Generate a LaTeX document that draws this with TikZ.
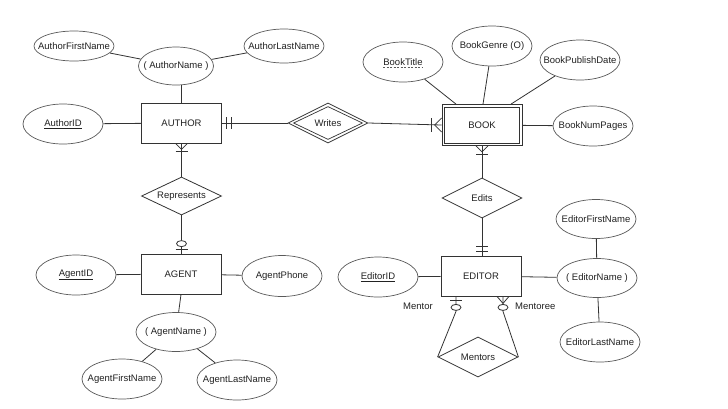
\documentclass[tikz,border=0pt]{standalone}
\usepackage{fontspec}
\setmainfont{Liberation Sans}
\usetikzlibrary{shapes.geometric,calc}
\definecolor{ln}{HTML}{333333}
\definecolor{el}{HTML}{5A5A5A}
\definecolor{tx}{HTML}{222222}
\tikzset{
  every node/.style={font=\fontsize{9.5}{11}\selectfont, text=tx},
  ent/.style={rectangle, draw=ln, line width=0.8pt, minimum width=80pt, minimum height=40pt, inner sep=0pt},
  attr/.style={ellipse, draw=el, line width=0.7pt, minimum width=80pt, minimum height=40pt, inner sep=0pt,
    label={[lbl]center:#1}},
  rel/.style={diamond, draw=ln, line width=0.8pt, minimum width=80pt, minimum height=40pt, inner sep=0pt, aspect=2},
  conn/.style={draw=ln, line width=0.8pt},
  mk/.style={draw=ln, line width=0.8pt},
  lbl/.style={inner sep=0pt}
}
\begin{document}
\begin{tikzpicture}[x=1pt,y=-1pt]
\useasboundingbox[fill=white] (0,0) rectangle (728,408);

% ---------- AUTHOR ----------
\node[ent] (AUTHOR) at (181.5,123) {AUTHOR};
\node[attr={( AuthorName )}, minimum width=75pt, minimum height=38pt] (AuthorName) at (176,66) {};
\node[attr=AuthorFirstName, minimum height=30pt] (AuthorFirstName) at (74,46) {};
\node[attr=AuthorLastName, minimum height=34pt] (AuthorLastName) at (284,46) {};
\node[attr={\underline{AuthorID}}] (AuthorID) at (63,124) {};

\path[conn] (AuthorFirstName) -- (AuthorName);
\path[conn] (AuthorLastName) -- (AuthorName);
\path[conn] (AuthorName.south -| AUTHOR.north) -- (AUTHOR.north);
\path[conn] (AuthorID) -- (AUTHOR);

% ---------- Writes ----------
\node[rel] (Writes) at (328,123) {};
\node[rel, minimum width=69pt, minimum height=33pt, line width=0.7pt] (WritesIn) at (328,123) {Writes};
\path[conn] (AUTHOR.east) -- (Writes.west);
\path[mk] ($(AUTHOR.east)+(4,-6)$) -- ($(AUTHOR.east)+(4,6)$);
\path[mk] ($(AUTHOR.east)+(9,-6)$) -- ($(AUTHOR.east)+(9,6)$);

% ---------- BOOK ----------
\node[ent, minimum height=41pt] (BOOK) at (482,125) {BOOK};
\draw[ln, line width=0.8pt] ([shift={(3pt,-3pt)}]BOOK.north west) rectangle ([shift={(-3pt,3pt)}]BOOK.south east);
\node[attr={}] (BookTitle) at (403,62) {};
\node[lbl] (BookTitleTxt) at (BookTitle.center) {BookTitle};
\draw[el, line width=0.6pt, dash pattern=on 2pt off 1.5pt] ([yshift=-2pt]BookTitleTxt.base west) -- ([yshift=-2pt]BookTitleTxt.base east);
\node[attr={BookGenre (O)}] (BookGenre) at (492,46) {};
\node[attr=BookPublishDate] (BookPublishDate) at (580,60) {};
\node[attr=BookNumPages] (BookNumPages) at (593,126) {};

\path[conn] (BookTitle) -- ($(BOOK.north)+(-26,0)$);
\path[conn] (BookGenre) -- ($(BOOK.north)+(1,0)$);
\path[conn] (BookPublishDate) -- ($(BOOK.north)+(29,0)$);
\path[conn] (BookNumPages) -- (BOOK);

\path[conn] (Writes.east) -- (BOOK.west);
% crow's foot + bar at BOOK west
\path[mk] ($(BOOK.west)+(0,-7)$) -- ($(BOOK.west)+(-7,0)$) -- ($(BOOK.west)+(0,7)$);
\path[mk] ($(BOOK.west)+(-10,-7)$) -- ($(BOOK.west)+(-10,7)$);

% ---------- Represents ----------
\node[rel, minimum height=38pt] (Represents) at (181.5,196) {Represents};
\path[conn] (AUTHOR.south) -- (Represents.north);
\path[mk] ($(AUTHOR.south)+(-6,0)$) -- ($(AUTHOR.south)+(0,6)$) -- ($(AUTHOR.south)+(6,0)$);
\path[mk] ($(AUTHOR.south)+(-6,8)$) -- ($(AUTHOR.south)+(6,8)$);

% ---------- AGENT ----------
\node[ent] (AGENT) at (181,274) {AGENT};
\node[attr={\underline{AgentID}}] (AgentID) at (76,275) {};
\node[attr=AgentPhone, minimum height=41pt] (AgentPhone) at (282,276) {};
\node[attr={( AgentName )}, minimum height=39pt] (AgentName) at (176,332) {};
\node[attr=AgentFirstName] (AgentFirstName) at (122,379) {};
\node[attr=AgentLastName] (AgentLastName) at (237,380) {};

\path[conn] (Represents.south) -- (Represents.south |- AGENT.north);
\path[mk] ($(Represents.south |- AGENT.north)+(-6,-4)$) -- ($(Represents.south |- AGENT.north)+(6,-4)$);
\path[mk, fill=white] ($(Represents.south |- AGENT.north)+(0,-10)$) ellipse [x radius=5pt, y radius=3pt];

\path[conn] (AgentID) -- (AGENT);
\path[conn] (AGENT) -- (AgentPhone);
\path[conn] (AGENT.south) -- (AgentName);
\path[conn] (AgentName) -- (AgentFirstName);
\path[conn] (AgentName) -- (AgentLastName);

% ---------- Edits ----------
\node[rel] (Edits) at (482,198) {Edits};
\path[conn] (BOOK.south) -- (Edits.north);
\path[mk] ($(BOOK.south)+(-6,0)$) -- ($(BOOK.south)+(0,6)$) -- ($(BOOK.south)+(6,0)$);
\path[mk] ($(BOOK.south)+(-6,8)$) -- ($(BOOK.south)+(6,8)$);

% ---------- EDITOR ----------
\node[ent] (EDITOR) at (481,276) {EDITOR};
\path[conn] (Edits.south) -- (Edits.south |- EDITOR.north);
\path[mk] ($(Edits.south |- EDITOR.north)+(-6,-4)$) -- ($(Edits.south |- EDITOR.north)+(6,-4)$);
\path[mk] ($(Edits.south |- EDITOR.north)+(-6,-9)$) -- ($(Edits.south |- EDITOR.north)+(6,-9)$);

\node[attr={\underline{EditorID}}] (EditorID) at (378,277) {};
\node[attr={( EditorName )}, minimum height=39pt] (EditorName) at (597,278) {};
\node[attr=EditorFirstName, minimum height=39pt] (EditorFirstName) at (596,219) {};
\node[attr=EditorLastName] (EditorLastName) at (600,342) {};

\path[conn] (EditorID) -- (EDITOR);
\path[conn] (EDITOR) -- (EditorName);
\path[conn] (EditorFirstName) -- (EditorName);
\path[conn] (EditorName) -- (EditorLastName);

% ---------- Mentors ----------
\node[rel] (Mentors) at (478,357) {Mentors};
\coordinate (mA) at ($(EDITOR.south)+(-25,0)$);
\coordinate (mB) at ($(EDITOR.south)+(22,0)$);
\path[conn] (mA) -- ++(0,15) -- (Mentors.west);
\path[conn] (mB) -- ++(0,15) -- (Mentors.east);
% Mentor: bar + circle
\path[mk] ($(mA)+(-6,4)$) -- ($(mA)+(6,4)$);
\path[mk, fill=white] ($(mA)+(0,11)$) ellipse [x radius=5pt, y radius=3pt];
% Mentoree: crow's foot + circle
\path[mk] ($(mB)+(-6,0)$) -- ($(mB)+(0,7)$) -- ($(mB)+(6,0)$);
\path[mk, fill=white] ($(mB)+(0,11)$) ellipse [x radius=5pt, y radius=3pt];

\node[lbl, anchor=east] (MentorLbl) at (433,306) {Mentor};
\node[lbl, anchor=west] (MentoreeLbl) at (515,306) {Mentoree};

\end{tikzpicture}
\end{document}
